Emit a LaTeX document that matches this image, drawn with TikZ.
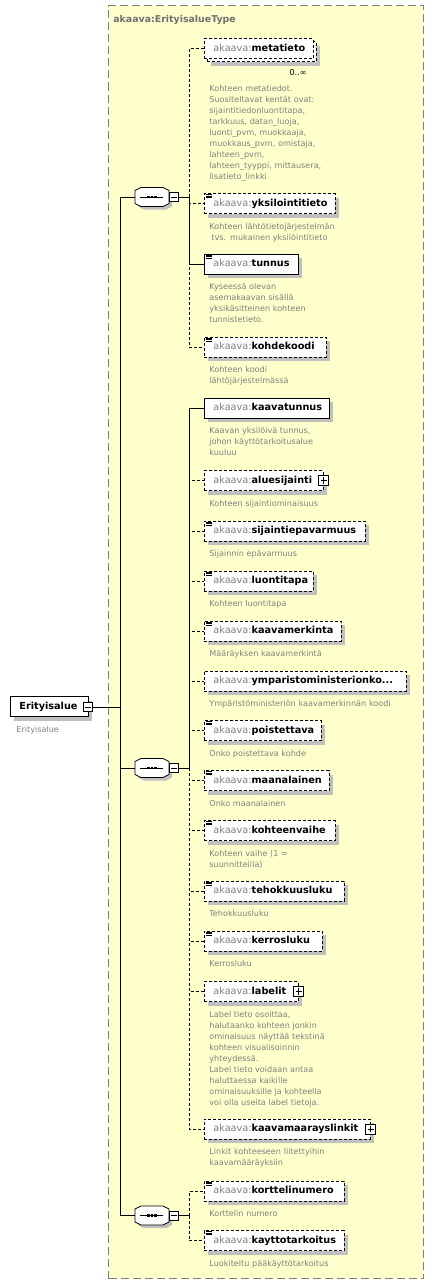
\documentclass[tikz,border=0pt]{standalone}
\usepackage{fontspec}
\setmainfont{DejaVu Sans}
\usetikzlibrary{shadows}
\definecolor{bgyellow}{HTML}{FFFFCC}
\definecolor{txtgray}{HTML}{808080}
\definecolor{titlegray}{HTML}{707070}
\definecolor{shgray}{HTML}{C0C0C0}
\definecolor{boxgray}{HTML}{808080}
\newcommand\elfont{\fontsize{9.7}{11}\selectfont}
\newcommand\dsfont{\fontsize{8.1}{11}\selectfont}
\newcommand\xel[6]{%
  \node[elembox,#4,text width=#3] (#1) at (204,#2) {\hspace*{9pt}\textcolor{txtgray}{akaava:}\textbf{#5}};
  \node[desc] (#1-d) at (209,#2+25.5) {#6};
}
\newcommand\xicon[1]{%
  \draw[line width=0.6pt] ([shift={(2,1.2)}]#1.north west) -- ++(6,0)
    ([shift={(2,2.8)}]#1.north west) -- ++(6,0)
    ([shift={(2,4.4)}]#1.north west) -- ++(6,0);
}
% sequence compositor: #1 name, #2 y
\newcommand\xseq[2]{%
  \fill[shgray] (155,#2+3) +(-17,-6.5) -- +(-11,-9.5) -- +(11,-9.5) -- +(17,-6.5) -- +(17,6.5) -- +(11,9.5) -- +(-11,9.5) -- +(-17,6.5) -- cycle;
  \filldraw[fill=white,draw=black] (152,#2) +(-17,-6.5) -- +(-11,-9.5) -- +(11,-9.5) -- +(17,-6.5) -- +(17,6.5) -- +(11,9.5) -- +(-11,9.5) -- +(-17,6.5) -- cycle;
  \node[minimum width=34,minimum height=19,inner sep=0] (#1) at (152,#2) {};
  \draw (#1.center) +(-12,0) -- +(11,0);
  \foreach \dx in {-3.6,0,3.6}{\fill (#1.center) +(\dx-1.3,-1.3) rectangle +(\dx+1.3,1.3);}
  \node[mbox] (#1m) at (174,#2) {};
}
\begin{document}
\begin{tikzpicture}[x=1pt,y=-1pt,line width=0.8pt,
  shad/.style={drop shadow={shadow xshift=4pt,shadow yshift=-4pt,fill=shgray,opacity=1}},
  elembox/.style={draw=black,fill=white,anchor=west,minimum height=20,inner sep=0,
    text height=7.5,text depth=2.5,align=left,font=\elfont},
  opt/.style={dash pattern=on 3pt off 2pt},
  req/.style={},
  desc/.style={anchor=base west,text width=210,align=left,inner sep=0,font=\dsfont,text=txtgray},
  dashline/.style={dash pattern=on 3pt off 2pt},
  mbox/.style={draw=black,fill=white,minimum size=9,inner sep=0,line width=0.7pt,
    path picture={\draw[line width=0.7pt] ([xshift=1.8pt]path picture bounding box.west) -- ([xshift=-1.8pt]path picture bounding box.east);}},
  pbox/.style={draw=black,fill=white,minimum size=10,inner sep=0,line width=0.7pt,
    path picture={\draw[line width=0.7pt] ([xshift=1.8pt]path picture bounding box.west) -- ([xshift=-1.8pt]path picture bounding box.east)
      ([yshift=1.8pt]path picture bounding box.south) -- ([yshift=-1.8pt]path picture bounding box.north);}}
]
\fill[white] (0,0) rectangle (434,1285);
\useasboundingbox (0,0) rectangle (434,1285);
% type box
\node[draw=boxgray,dash pattern=on 8pt off 4pt,line width=1pt,fill=bgyellow,anchor=north west,
  minimum width=315,minimum height=1273,inner sep=0] (typebox) at (108,5) {};
\node[anchor=base west,inner sep=0,font=\fontsize{9.4}{11}\selectfont\bfseries,text=titlegray] (title) at (113,22.5) {akaava:ErityisalueType};
% root
\node[elembox,shad,text width=78] (root) at (10,706.5) {\hspace*{9pt}\textbf{Erityisalue}};
\node[mbox] (rootm) at (88,707) {};
\node[desc] (root-d) at (16,732) {Erityisalue};
% sequences
\xseq{seqA}{197}
\xseq{seqB}{768}
\xseq{seqC}{1215.5}
\coordinate (tr) at (120,707);
\coordinate (bA) at (189,197);
\coordinate (bB) at (189,768);
\coordinate (bC) at (189,1215.5);
% metatieto (multiple)
\node[elembox,opt,shad,text width=109] (met-b) at (207,51.5) {};
\node[elembox,opt,text width=109] (met) at (204,48.5) {\hspace*{9pt}\textcolor{txtgray}{akaava:}\textbf{metatieto}};
\node[anchor=base east,inner sep=0,font=\dsfont] (met-c) at (307,75) {0..∞};
\node[desc] (met-d) at (209,91) {Kohteen metatiedot.\\Suositeltavat kentät ovat:\\sijaintitiedonluontitapa,\\tarkkuus, datan\_luoja,\\luonti\_pvm, muokkaaja,\\muokkaus\_pvm, omistaja,\\lahteen\_pvm,\\lahteen\_tyyppi, mittausera,\\lisatieto\_linkki};
% seq A children
\xel{yks}{203.5}{131}{opt,shad}{yksilointitieto}{Kohteen lähtötietojärjestelmän\\\hspace*{2pt}tvs. mukainen yksilöintitieto}
\xicon{yks}
\xel{tun}{264}{94}{req,shad}{tunnus}{Kyseessä olevan\\asemakaavan sisällä\\yksikäsitteinen kohteen\\tunnistetieto.}
\xicon{tun}
\xel{koh}{347}{122}{opt,shad}{kohdekoodi}{Kohteen koodi\\lähtöjärjestelmässä}
\xicon{koh}
% seq B children
\xel{kaa}{408}{125}{req,shad}{kaavatunnus}{Kaavan yksilöivä tunnus,\\johon käyttötarkoitusalue\\kuuluu}
\xel{alu}{480.5}{119}{opt,shad}{aluesijainti}{Kohteen sijaintiominaisuus}
\node[pbox] (alu-p) at (alu.east) {};
\xel{sij}{531}{161}{opt,shad}{sijaintiepavarmuus}{Sijainnin epävarmuus}
\xicon{sij}
\xel{luo}{581}{109}{opt,shad}{luontitapa}{Kohteen luontitapa}
\xicon{luo}
\xel{kme}{631}{137}{opt,shad}{kaavamerkinta}{Määräyksen kaavamerkintä}
\xicon{kme}
\xel{ymp}{681}{202}{opt,shad}{ymparistoministerionko...}{Ympäristöministeriön kaavamerkinnän koodi}
\xel{poi}{730.5}{117}{opt,shad}{poistettava}{Onko poistettava kohde}
\xicon{poi}
\xel{maa}{780.5}{125}{opt,shad}{maanalainen}{Onko maanalainen}
\xicon{maa}
\xel{kve}{830.5}{131}{opt,shad}{kohteenvaihe}{Kohteen vaihe (1 =\\suunnitteilla)}
\xicon{kve}
\xel{teh}{891}{140}{opt,shad}{tehokkuusluku}{Tehokkuusluku}
\xicon{teh}
\xel{ker}{941}{118}{opt,shad}{kerrosluku}{Kerrosluku}
\xicon{ker}
\xel{lab}{991.5}{94}{opt,shad}{labelit}{Label tieto osoittaa,\\halutaanko kohteen jonkin\\ominaisuus näyttää tekstinä\\kohteen visualisoinnin\\yhteydessä.\\Label tieto voidaan antaa\\haluttaessa kaikille\\ominaisuuksille ja kohteella\\voi olla useita label tietoja.}
\node[pbox] (lab-p) at (lab.east) {};
\xel{kml}{1129}{166}{opt,shad}{kaavamaarayslinkit}{Linkit kohteeseen liitettyihin\\kaavamääräyksiin}
\node[pbox] (kml-p) at (kml.east) {};
% seq C children
\xel{kor}{1191}{140}{opt,shad}{korttelinumero}{Korttelin numero}
\xicon{kor}
\xel{kay}{1240.5}{140}{opt,shad}{kayttotarkoitus}{Luokiteltu pääkäyttötarkoitus}
\xicon{kay}
% connectors: root and trunk
\draw (rootm.east) -- (tr);
\draw (tr) |- (seqA.west);
\draw (tr) |- (seqB.west);
\draw (tr) |- (seqC.west);
\draw (seqAm.east) -- (bA);
\draw (seqBm.east) -- (bB);
\draw (seqCm.east) -- (bC);
% seq A
\draw[dashline] (bA) |- (met.west);
\draw[dashline] (bA) |- (yks.west);
\draw[dashline] (bA) |- (koh.west);
\draw (bA) |- (tun.west);
% seq B
\foreach \n in {alu,sij,luo,kme,ymp,poi,maa,kve,teh,ker,lab,kml}{\draw[dashline] (bB) |- (\n.west);}
\draw (bB) |- (kaa.west);
% seq C
\draw[dashline] (bC) |- (kor.west);
\draw[dashline] (bC) |- (kay.west);
\end{tikzpicture}
\end{document}
